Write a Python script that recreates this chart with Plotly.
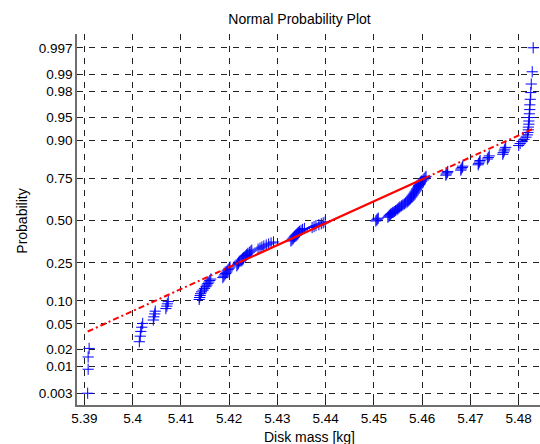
import numpy as np
import plotly.graph_objects as go
from statistics import NormalDist

# Sample of disk masses [kg] (sorted)
disk_mass = [
    5.3907, 5.3908, 5.3908, 5.3910,
    5.4014, 5.4016, 5.4017, 5.4019, 5.4021,
    5.4043, 5.4044, 5.4046, 5.4047,
    5.4069, 5.4071, 5.4072, 5.4074,
    5.4138, 5.4139, 5.4140, 5.4141, 5.4143, 5.4146, 5.4149, 5.4152, 5.4154,
    5.4156, 5.4158, 5.4160, 5.4162,
    5.4187, 5.4189, 5.4191, 5.4193, 5.4195, 5.4196, 5.4198, 5.4200, 5.4202,
    5.4216, 5.4218, 5.4219, 5.4220, 5.4222, 5.4225, 5.4228, 5.4230, 5.4233,
    5.4235, 5.4237, 5.4239, 5.4242, 5.4245, 5.4247,
    5.4260, 5.4264, 5.4268, 5.4272, 5.4277, 5.4282, 5.4287, 5.4292,
    5.4328, 5.4330, 5.4332, 5.4333, 5.4335, 5.4336, 5.4338, 5.4340, 5.4342,
    5.4344, 5.4346, 5.4349, 5.4352, 5.4356,
    5.4372, 5.4376, 5.4380, 5.4386, 5.4391, 5.4395, 5.4399,
    5.4504, 5.4506, 5.4507, 5.4509,
    5.4529, 5.4531, 5.4532, 5.4534, 5.4536, 5.4539, 5.4542, 5.4545, 5.4548,
    5.4550, 5.4552, 5.4554, 5.4557, 5.4560, 5.4563, 5.4566, 5.4569, 5.4571,
    5.4573, 5.4575, 5.4576, 5.4578, 5.4579, 5.4581, 5.4582, 5.4584, 5.4585,
    5.4587, 5.4588, 5.4589, 5.4591, 5.4592, 5.4593, 5.4595, 5.4596, 5.4597,
    5.4599, 5.4602, 5.4604, 5.4606, 5.4608,
    5.4649, 5.4650, 5.4652, 5.4653,
    5.4680, 5.4681, 5.4683, 5.4684,
    5.4716, 5.4717, 5.4719, 5.4720,
    5.4735, 5.4737, 5.4739,
    5.4767, 5.4768, 5.4770, 5.4771, 5.4773,
    5.4800, 5.4803, 5.4807, 5.4811, 5.4815, 5.4818,
    5.4819, 5.4820, 5.4820, 5.4821, 5.4821, 5.4822, 5.4822, 5.4823, 5.4823,
    5.4824, 5.4825, 5.4826, 5.4828, 5.4830,
]

prob_ticks = [0.003, 0.01, 0.02, 0.05, 0.10, 0.25, 0.50, 0.75, 0.90, 0.95, 0.98, 0.99, 0.997]
prob_labels = ['0.003', '0.01', '0.02', '0.05', '0.10', '0.25', '0.50', '0.75',
               '0.90', '0.95', '0.98', '0.99', '0.997']
mass_ticks = [5.39, 5.40, 5.41, 5.42, 5.43, 5.44, 5.45, 5.46, 5.47, 5.48]
mass_labels = ['5.39', '5.4', '5.41', '5.42', '5.43', '5.44', '5.45', '5.46', '5.47', '5.48']

nd = NormalDist()
x = np.sort(np.array(disk_mass))
n = len(x)
p = (np.arange(1, n + 1) - 0.5) / n
z = np.array([nd.inv_cdf(v) for v in p])

# reference line through the quartiles (as in normplot)
q1, q3 = np.percentile(x, [25, 75], method='hazen')
z1, z3 = nd.inv_cdf(0.25), nd.inv_cdf(0.75)
slope = (z3 - z1) / (q3 - q1)
def ref(v):
    return z1 + slope * (v - q1)

FONT = "Liberation Sans, Arial, sans-serif"

fig = go.Figure()
fig.add_trace(go.Scatter(
    x=x, y=z, mode='markers',
    marker=dict(symbol='cross-thin', size=8, line=dict(color='#0000ff', width=1)),
    showlegend=False, hoverinfo='skip'))
fig.add_trace(go.Scatter(
    x=[x.min(), q1], y=[ref(x.min()), z1], mode='lines',
    line=dict(color='#ff0000', width=2, dash='6px,3px,2px,3px'), showlegend=False))
fig.add_trace(go.Scatter(
    x=[q3, x.max()], y=[z3, ref(x.max())], mode='lines',
    line=dict(color='#ff0000', width=2, dash='6px,3px,2px,3px'), showlegend=False))
fig.add_trace(go.Scatter(
    x=[q1, q3], y=[z1, z3], mode='lines',
    line=dict(color='#ff0000', width=2.2), showlegend=False))

axis_common = dict(
    ticks='inside', ticklen=5, tickcolor='#222222', tickwidth=1,
    showline=True, linecolor='#6e6e6e', linewidth=1.5,
    showgrid=True, gridcolor='#222222', gridwidth=1, griddash='6px,6px',
    zeroline=False, tickfont=dict(family=FONT, size=13.5, color='#000000'),
)

fig.update_layout(
    width=540, height=444,
    margin=dict(l=77, r=0, t=34, b=39),
    paper_bgcolor='white', plot_bgcolor='white',
    title=dict(text='Normal Probability Plot', font=dict(family=FONT, size=14, color='#000000'),
               xref='container', yref='container', x=299.5 / 540, xanchor='center',
               y=1 - 19 / 444, yanchor='middle'),
    xaxis=dict(range=[5.38849, 5.48441], tickvals=mass_ticks, ticktext=mass_labels, **axis_common),
    yaxis=dict(range=[-2.938, 2.970], tickvals=[nd.inv_cdf(v) for v in prob_ticks],
               ticktext=prob_labels, **axis_common),
    annotations=[
        dict(text='Disk mass [kg]', xref='paper', yref='paper',
             x=(309.7 - 77) / 463, y=-(436.5 - 405) / 371, xanchor='center', yanchor='middle',
             showarrow=False, font=dict(family=FONT, size=14, color='#000000')),
        dict(text='Probability', xref='paper', yref='paper',
             x=-(77 - 22) / 463, y=(405 - 221.7) / 371, xanchor='center', yanchor='middle',
             textangle=-90, showarrow=False, font=dict(family=FONT, size=14, color='#000000')),
    ],
)

fig.write_html("out.html")
